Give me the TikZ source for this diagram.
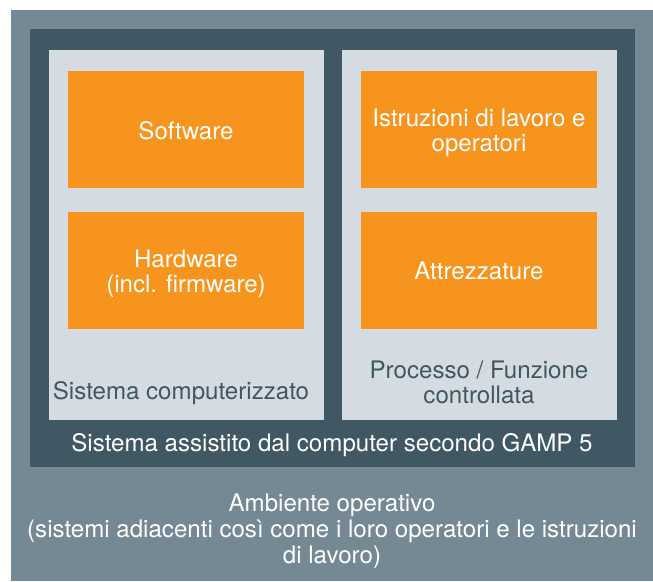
\documentclass[tikz,border=0pt]{standalone}
\usepackage{fontspec}
\setmainfont{TeX Gyre Heros}
\definecolor{envgray}{HTML}{748993}
\definecolor{darkslate}{HTML}{405764}
\definecolor{lightpanel}{HTML}{D4DBE1}
\definecolor{orangebox}{HTML}{F7941D}
\tikzset{
  area/.style={inner sep=0pt, outer sep=0pt, anchor=north west},
  orangebox/.style={area, fill=orangebox, minimum width=236pt, minimum height=117pt},
  panel/.style={area, fill=lightpanel, minimum width=275pt, minimum height=370pt},
  lbl/.style={inner sep=0pt, align=center, font=\fontsize{24.1}{25}\selectfont},
  whitelbl/.style={lbl, text=white},
  darklbl/.style={lbl, text=darkslate},
}
\begin{document}
\begin{tikzpicture}[x=1pt,y=-1pt]
\useasboundingbox (0,0) rectangle (653,581);
\node[area, fill=envgray, minimum width=642pt, minimum height=571pt] (env) at (11,10) {};
\node[area, fill=darkslate, minimum width=605pt, minimum height=438pt] (gamp) at (30,29) {};
\node[panel] (cs) at (49,50) {};
\node[panel] (proc) at (342,50) {};
\node[orangebox] (sw) at (68,71) {};
\node[orangebox] (hw) at (68,212) {};
\node[orangebox] (instr) at (361,71) {};
\node[orangebox] (equip) at (361,212) {};
\node[whitelbl] (swt) at ([yshift=-1pt]sw.center) {Software};
\node[whitelbl] (hwt) at ([yshift=-3pt]hw.center) {Hardware\\(incl. firmware)};
\node[whitelbl] (instrt) at ([yshift=-3pt]instr.center) {Istruzioni di lavoro e\\operatori};
\node[whitelbl] (equipt) at (equip.center) {Attrezzature};
\node[darklbl] (cst) at (181,393.5) {Sistema computerizzato};
\node[darklbl] (proct) at (479,382) {Processo / Funzione\\controllata};
\node[whitelbl] (gampt) at (332,445) {Sistema assistito dal computer secondo GAMP 5};
\node[whitelbl, font=\fontsize{24.1}{26}\selectfont] (envt) at (332,531) {Ambiente operativo\\(sistemi adiacenti così come i loro operatori e le istruzioni\\di lavoro)};
\end{tikzpicture}
\end{document}
